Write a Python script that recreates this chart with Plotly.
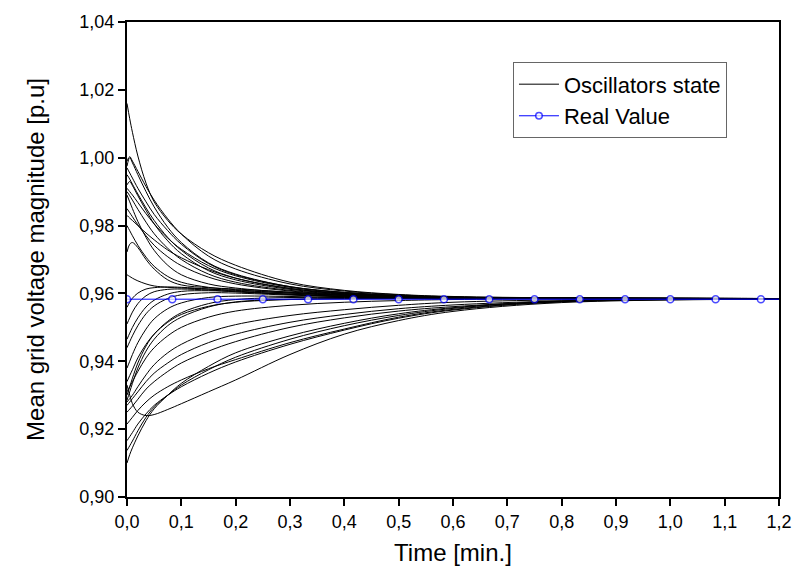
import plotly.graph_objects as go

# Sample times [min] shared by all oscillator state traces
T = [0.0, 0.005, 0.01, 0.02, 0.035, 0.05, 0.075, 0.1, 0.15, 0.2, 0.3, 0.4, 0.5, 0.6, 0.8, 1.2]

# Oscillators starting above the mean value (decaying)
S01 = [1.0160, 1.0115, 1.0075, 1.0005, 0.9925, 0.9870, 0.9815, 0.9775, 0.9720, 0.9683, 0.9633, 0.9609, 0.9597, 0.9591, 0.9587, 0.9585]
S02 = [0.9990, 1.0003, 0.9990, 0.9960, 0.9915, 0.9875, 0.9820, 0.9775, 0.9710, 0.9672, 0.9628, 0.9607, 0.9596, 0.9590, 0.9587, 0.9585]
S03 = [0.9975, 1.0000, 0.9985, 0.9950, 0.9900, 0.9855, 0.9795, 0.9750, 0.9690, 0.9657, 0.9620, 0.9603, 0.9594, 0.9589, 0.9586, 0.9585]
S04 = [0.9970, 0.9955, 0.9940, 0.9910, 0.9870, 0.9833, 0.9785, 0.9745, 0.9688, 0.9655, 0.9620, 0.9603, 0.9594, 0.9589, 0.9586, 0.9585]
S05 = [0.9950, 0.9937, 0.9922, 0.9893, 0.9852, 0.9815, 0.9765, 0.9727, 0.9675, 0.9645, 0.9614, 0.9600, 0.9592, 0.9588, 0.9586, 0.9585]
S06 = [0.9920, 0.9930, 0.9918, 0.9888, 0.9845, 0.9805, 0.9755, 0.9717, 0.9667, 0.9640, 0.9612, 0.9599, 0.9592, 0.9588, 0.9586, 0.9585]
S07 = [0.9900, 0.9888, 0.9875, 0.9848, 0.9810, 0.9776, 0.9733, 0.9700, 0.9657, 0.9633, 0.9609, 0.9598, 0.9591, 0.9588, 0.9586, 0.9585]
S08 = [0.9890, 0.9870, 0.9850, 0.9812, 0.9765, 0.9727, 0.9683, 0.9655, 0.9628, 0.9616, 0.9603, 0.9595, 0.9590, 0.9587, 0.9586, 0.9585]
S09 = [0.9850, 0.9838, 0.9826, 0.9802, 0.9770, 0.9742, 0.9708, 0.9682, 0.9648, 0.9628, 0.9607, 0.9597, 0.9591, 0.9588, 0.9586, 0.9585]
S10 = [0.9800, 0.9785, 0.9770, 0.9742, 0.9707, 0.9680, 0.9650, 0.9633, 0.9618, 0.9611, 0.9601, 0.9594, 0.9590, 0.9587, 0.9586, 0.9585]
S11 = [0.9722, 0.9745, 0.9750, 0.9735, 0.9700, 0.9672, 0.9640, 0.9625, 0.9617, 0.9613, 0.9604, 0.9596, 0.9591, 0.9588, 0.9586, 0.9585]
S12 = [0.9655, 0.9650, 0.9645, 0.9637, 0.9628, 0.9622, 0.9618, 0.9616, 0.9613, 0.9609, 0.9601, 0.9594, 0.9590, 0.9587, 0.9586, 0.9585]
S13 = [0.9830, 0.9822, 0.9815, 0.9800, 0.9778, 0.9758, 0.9728, 0.9705, 0.9670, 0.9645, 0.9615, 0.9600, 0.9592, 0.9588, 0.9586, 0.9585]
S14 = [0.9910, 0.9900, 0.9890, 0.9868, 0.9835, 0.9805, 0.9763, 0.9730, 0.9682, 0.9652, 0.9618, 0.9602, 0.9593, 0.9589, 0.9586, 0.9585]

# Oscillators starting below the mean value (rising)
S15 = [0.9559, 0.9574, 0.9586, 0.9601, 0.9613, 0.9617, 0.9619, 0.9618, 0.9613, 0.9607, 0.9598, 0.9592, 0.9589, 0.9587, 0.9585, 0.9585]
S16 = [0.9510, 0.9528, 0.9545, 0.9570, 0.9593, 0.9605, 0.9612, 0.9613, 0.9610, 0.9605, 0.9597, 0.9591, 0.9588, 0.9586, 0.9585, 0.9585]
S17 = [0.9440, 0.9458, 0.9475, 0.9505, 0.9540, 0.9563, 0.9585, 0.9596, 0.9602, 0.9601, 0.9595, 0.9590, 0.9587, 0.9586, 0.9585, 0.9585]
S18 = [0.9380, 0.9400, 0.9420, 0.9455, 0.9495, 0.9525, 0.9555, 0.9572, 0.9588, 0.9592, 0.9591, 0.9588, 0.9586, 0.9585, 0.9585, 0.9585]
S19 = [0.9340, 0.9358, 0.9375, 0.9410, 0.9450, 0.9480, 0.9515, 0.9538, 0.9562, 0.9574, 0.9582, 0.9584, 0.9585, 0.9585, 0.9585, 0.9585]
S20 = [0.9310, 0.9325, 0.9340, 0.9370, 0.9410, 0.9440, 0.9475, 0.9500, 0.9530, 0.9548, 0.9565, 0.9574, 0.9579, 0.9582, 0.9584, 0.9585]
S21 = [0.9280, 0.9290, 0.9300, 0.9325, 0.9360, 0.9390, 0.9425, 0.9450, 0.9485, 0.9508, 0.9535, 0.9552, 0.9565, 0.9574, 0.9581, 0.9585]
S22 = [0.9215, 0.9225, 0.9235, 0.9255, 0.9280, 0.9300, 0.9325, 0.9345, 0.9378, 0.9405, 0.9455, 0.9495, 0.9530, 0.9553, 0.9576, 0.9584]
S23 = [0.9166, 0.9178, 0.9190, 0.9215, 0.9245, 0.9270, 0.9300, 0.9325, 0.9365, 0.9398, 0.9450, 0.9492, 0.9527, 0.9551, 0.9575, 0.9584]
S24 = [0.9137, 0.9151, 0.9165, 0.9195, 0.9235, 0.9265, 0.9300, 0.9330, 0.9375, 0.9412, 0.9465, 0.9505, 0.9535, 0.9556, 0.9577, 0.9584]
S25 = [0.9100, 0.9125, 0.9145, 0.9180, 0.9225, 0.9260, 0.9300, 0.9335, 0.9385, 0.9425, 0.9475, 0.9512, 0.9540, 0.9558, 0.9578, 0.9584]
S26 = [0.9330, 0.9300, 0.9275, 0.9250, 0.9240, 0.9243, 0.9258, 0.9275, 0.9310, 0.9345, 0.9420, 0.9480, 0.9520, 0.9547, 0.9573, 0.9583]
S27 = [0.9270, 0.9280, 0.9290, 0.9310, 0.9340, 0.9365, 0.9395, 0.9420, 0.9455, 0.9480, 0.9515, 0.9538, 0.9555, 0.9566, 0.9578, 0.9585]
S28 = [0.9250, 0.9259, 0.9268, 0.9288, 0.9318, 0.9340, 0.9370, 0.9395, 0.9430, 0.9458, 0.9500, 0.9528, 0.9548, 0.9561, 0.9576, 0.9584]
S29 = [0.9300, 0.9325, 0.9350, 0.9395, 0.9445, 0.9480, 0.9518, 0.9543, 0.9570, 0.9582, 0.9588, 0.9588, 0.9587, 0.9586, 0.9585, 0.9585]
S30 = [0.9285, 0.9310, 0.9335, 0.9380, 0.9430, 0.9465, 0.9505, 0.9530, 0.9560, 0.9575, 0.9583, 0.9585, 0.9585, 0.9585, 0.9585, 0.9585]
S31 = [0.9465, 0.9483, 0.9500, 0.9528, 0.9560, 0.9580, 0.9598, 0.9606, 0.9608, 0.9605, 0.9597, 0.9591, 0.9588, 0.9586, 0.9585, 0.9585]

# Real mean grid voltage, sampled every 5 s
REAL_T = [0.0, 0.0833, 0.1667, 0.25, 0.3333, 0.4167, 0.5, 0.5833, 0.6667, 0.75, 0.8333, 0.9167, 1.0, 1.0833, 1.1667, 1.2]
REAL_V = [0.9583, 0.9583, 0.9583, 0.9583, 0.9583, 0.9583, 0.9583, 0.9583, 0.9583, 0.9583, 0.9583, 0.9583, 0.9583, 0.9583, 0.9583, 0.9583]

X_TICKS = [0.0, 0.1, 0.2, 0.3, 0.4, 0.5, 0.6, 0.7, 0.8, 0.9, 1.0, 1.1, 1.2]
Y_TICKS = [0.90, 0.92, 0.94, 0.96, 0.98, 1.00, 1.02, 1.04]

states = [S01, S02, S03, S04, S05, S06, S07, S08, S09, S10, S11, S12, S13, S14, S15,
          S16, S17, S18, S19, S20, S21, S22, S23, S24, S25, S26, S27, S28, S29, S30, S31]

FONT = "Liberation Sans, Arial, sans-serif"

fig = go.Figure()
for i, s in enumerate(states):
    fig.add_trace(go.Scatter(
        x=T, y=s, mode="lines", name="Oscillators state",
        line=dict(color="black", width=1, shape="spline", smoothing=1.0),
        showlegend=(i == 0), legendgroup="osc",
    ))

# Marker on every sample except the last one at the right edge
marker_sizes = [7] * (len(REAL_T) - 1) + [0]
fig.add_trace(go.Scatter(
    x=REAL_T, y=REAL_V, mode="lines+markers", name="Real Value",
    line=dict(color="#0000ff", width=1),
    marker=dict(symbol="circle", size=marker_sizes, color="#ffffff",
                line=dict(color="#0000ff", width=1.5)),
))

axis_common = dict(
    showline=True, linecolor="black", linewidth=2, mirror=True,
    ticks="outside", ticklen=7, tickwidth=1.5, tickcolor="black",
    showgrid=False, zeroline=False,
    tickfont=dict(family=FONT, size=18, color="black"),
)

fig.update_xaxes(
    range=[0, 1.2], tickvals=X_TICKS, tickformat=".1f",
    title=dict(text="Time [min.]", font=dict(family=FONT, size=24, color="black"), standoff=14),
    **axis_common,
)
fig.update_yaxes(
    range=[0.90, 1.04], tickvals=Y_TICKS, tickformat=".2f",
    title=dict(text="Mean grid voltage magnitude [p.u]", font=dict(family=FONT, size=24, color="black"), standoff=28),
    **axis_common,
)

fig.update_layout(
    width=808, height=575,
    margin=dict(l=127, r=29, t=16, b=78),
    paper_bgcolor="white", plot_bgcolor="white",
    separators=", ",
    font=dict(family=FONT, color="black"),
    legend=dict(
        x=0.592, y=0.915, xanchor="left", yanchor="top",
        bgcolor="white", bordercolor="#666666", borderwidth=1,
        font=dict(family=FONT, size=22, color="black"),
        tracegroupgap=0, itemwidth=40,
    ),
)

fig.write_html("out.html")
